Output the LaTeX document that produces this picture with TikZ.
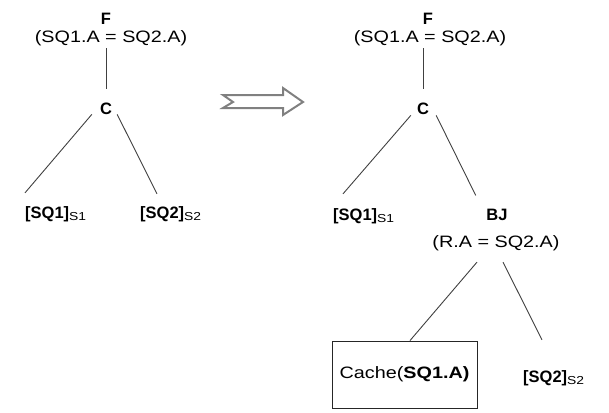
\documentclass[tikz,border=0pt]{standalone}
\usepackage{fontspec}
\setmainfont{Liberation Sans}
\newfontfamily\widefont{Liberation Sans}[FakeStretch=1.2]
\newcommand{\sbs}[1]{\textsubscript{\widefont\mdseries #1}}

\begin{document}
\begin{tikzpicture}[x=1pt, y=-1pt,
		every node/.style={inner sep=0pt, font=\fontsize{16.5}{20}\selectfont},
		op/.style={anchor=base, font=\fontsize{16.5}{20}\selectfont\bfseries},
		cond/.style={anchor=base, font=\fontsize{16.5}{20}\selectfont\widefont},
		leaf/.style={anchor=base west, font=\fontsize{16.5}{20}\selectfont\bfseries},
		cachebox/.style={draw=black!85, line width=0.9pt, minimum width=145pt, minimum height=67pt},
		edge/.style={draw=black!75, line width=0.9pt},
		bigarrow/.style={draw=gray, line width=2pt, line join=miter}
	]
	\useasboundingbox (0,0) rectangle (609,412);

	% left tree
	\node[op] (fL) at (106,25) {F};
	\node[cond] (fcL) at (111,42) {(SQ1.A = SQ2.A)};
	\node[op] (cL) at (106,114) {C};
	\node[leaf] (sq1L) at (25,218) {[SQ1]\sbs{S1}};
	\node[leaf] (sq2L) at (140,218) {[SQ2]\sbs{S2}};

	\draw[edge] ([yshift=-2.5pt]fL |- fcL.south) -- ([yshift=13pt]cL.north);
	\draw[edge] ([xshift=-8pt]cL.south west) -- ([yshift=13pt]sq1L.north west);
	\draw[edge] ([xshift=5pt]cL.south east) -- ([xshift=17pt, yshift=12pt]sq2L.north west);

	% rewrite arrow
	\draw[bigarrow] (223,95) -- (283,95) -- (283,88) -- (303,102)
		-- (283,115) -- (283,108) -- (223,108) -- (233,102) -- cycle;

	% right tree
	\node[op] (fR) at (428,25) {F};
	\node[cond] (fcR) at (430,42) {(SQ1.A = SQ2.A)};
	\node[op] (cR) at (423,114) {C};
	\node[leaf] (sq1R) at (333,220) {[SQ1]\sbs{S1}};
	\node[op] (bjR) at (497,220) {BJ};
	\node[cond] (bjcR) at (496,247) {(R.A = SQ2.A)};
	\node[cachebox] (cache) at (404.5,374.5) {{\widefont Cache(}{\widefont\bfseries SQ1.A)}};
	\node[leaf] (sq2R) at (523,382) {[SQ2]\sbs{S2}};

	\draw[edge] ([yshift=-2.5pt]cR |- fcR.south) -- ([yshift=13pt]cR.north);
	\draw[edge] ([xshift=-6pt, yshift=-1pt]cR.south west) -- ([xshift=10pt, yshift=14pt]sq1R.north west);
	\draw[edge] ([xshift=7pt, yshift=-1pt]cR.south east) -- ([xshift=-10.5pt, yshift=13pt]bjR.north west);
	\draw[edge] ([xshift=-19pt, yshift=-11.5pt]bjcR.south) -- ([xshift=5.5pt]cache.north);
	\draw[edge] ([xshift=7pt, yshift=-11.5pt]bjcR.south) -- ([xshift=19pt, yshift=30pt]sq2R.north west);
\end{tikzpicture}
\end{document}
